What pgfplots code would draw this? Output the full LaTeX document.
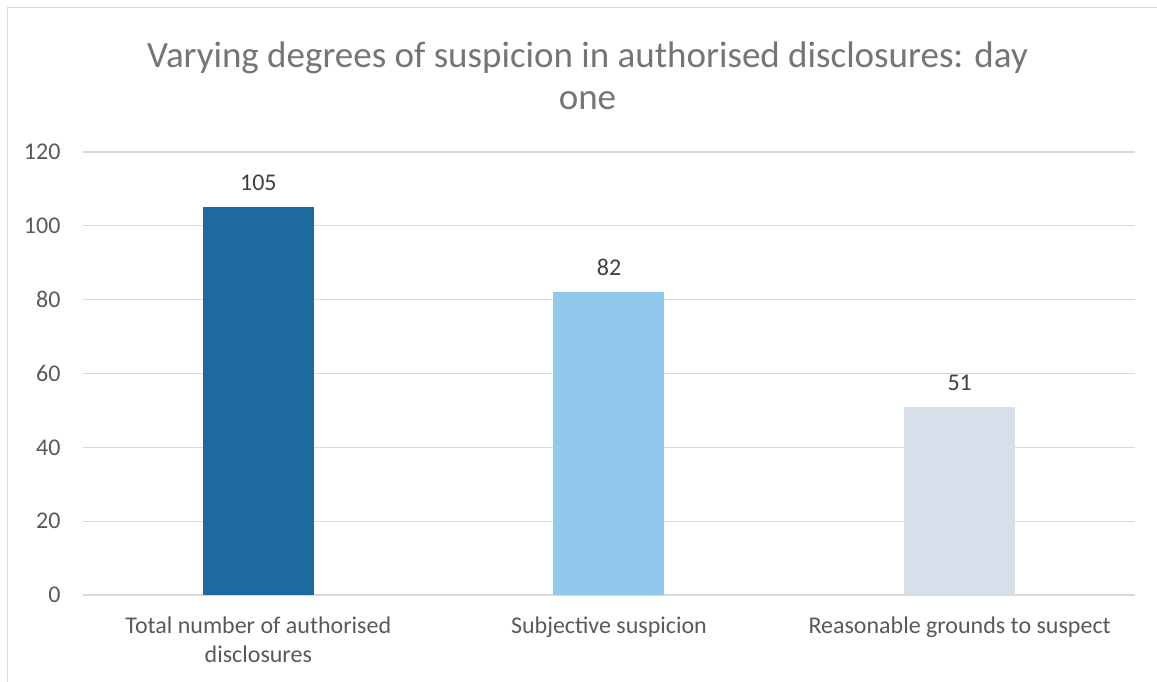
\documentclass[border=0pt]{standalone}
\usepackage{pgfplots}
\pgfplotsset{compat=1.18}
\usepackage{fontspec}
\setmainfont{Carlito}
\definecolor{barA}{HTML}{1C6AA0}
\definecolor{barB}{HTML}{92C8EE}
\definecolor{barC}{HTML}{D6DFEA}
\definecolor{gridc}{HTML}{D9D9D9}
\definecolor{tickc}{HTML}{595959}
\definecolor{titlec}{HTML}{757575}
\definecolor{labc}{HTML}{404040}
\begin{document}
\begin{tikzpicture}
\useasboundingbox (0pt,0pt) rectangle (1157pt,682pt);
\draw[gridc,line width=1.2pt] (7.5pt,0pt) -- (7.5pt,674.5pt) -- (1157pt,674.5pt);
\node[font=\fontsize{37}{42}\selectfont,text=titlec,align=center] at (587.5pt,606pt) {Varying degrees of suspicion in authorised disclosures: day\\one};
\begin{axis}[
  at={(83pt,87pt)}, anchor=south west,
  scale only axis, width=1052pt, height=443pt,
  xmin=-0.5, xmax=2.5, ymin=0, ymax=120,
  ytick={0,20,...,120},
  xtick={0,1,2},
  xticklabels={{Total number of authorised\\disclosures},{Subjective suspicion},{Reasonable grounds to suspect}},
  xticklabel style={align=center,text=tickc,font=\fontsize{24}{29}\selectfont},
  yticklabel style={text=tickc,font=\fontsize{24}{29}\selectfont},
  /pgf/number format/assume math mode=true,
  ymajorgrids, grid style={gridc,line width=1.2pt},
  axis line style={draw=none},
  axis x line*=bottom,
  x axis line style={gridc,line width=1.2pt},
  major tick length=0pt,
  yticklabel shift=19pt,
  xticklabel shift=18pt,
  ybar, bar width=111pt, bar shift=0pt,
  nodes near coords,
  every node near coord/.append style={text=labc,font=\fontsize{24}{29}\selectfont,yshift=13pt},
  clip=false,
]
\addplot[fill=barA,draw=none] coordinates {(0,105)};
\addplot[fill=barB,draw=none] coordinates {(1,82)};
\addplot[fill=barC,draw=none] coordinates {(2,51)};
\end{axis}
\end{tikzpicture}
\end{document}
